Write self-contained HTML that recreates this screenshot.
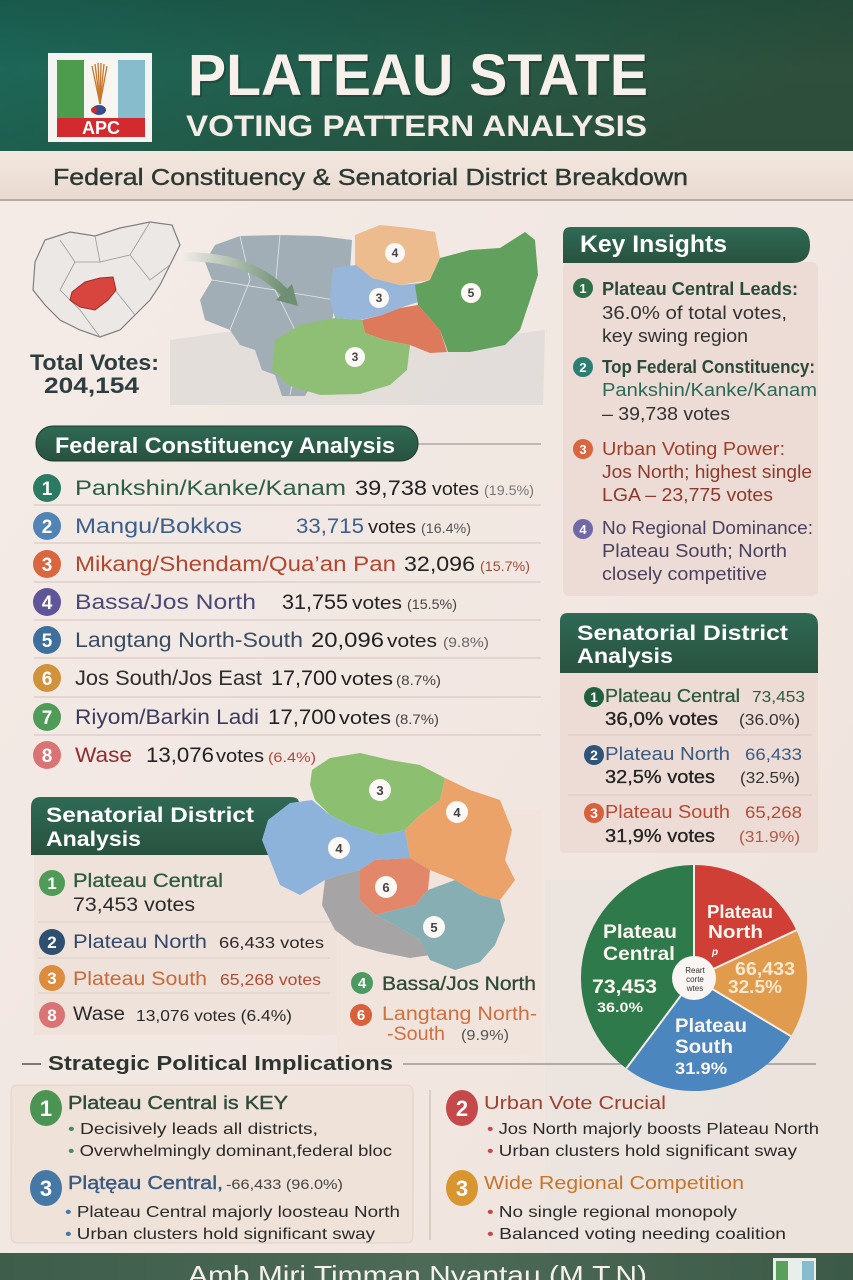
<!DOCTYPE html>
<html><head><meta charset="utf-8"><style>
html,body{margin:0;padding:0;background:#f3eae5;}
svg{display:block;}
text{font-family:"Liberation Sans",sans-serif;}
</style></head><body>
<svg width="853" height="1280" viewBox="0 0 853 1280" xmlns="http://www.w3.org/2000/svg">
<defs>
<linearGradient id="hdr" x1="0" y1="0" x2="1" y2="0.3">
<stop offset="0" stop-color="#1b6a5c"/><stop offset="0.5" stop-color="#235d4b"/><stop offset="1" stop-color="#2e4f3b"/></linearGradient>
<linearGradient id="hdrv" x1="0" y1="0" x2="0" y2="1">
<stop offset="0" stop-color="#163c30" stop-opacity="0.35"/><stop offset="0.45" stop-color="#163c30" stop-opacity="0"/><stop offset="1" stop-color="#163c30" stop-opacity="0.1"/></linearGradient>
<linearGradient id="sub" x1="0" y1="0" x2="0" y2="1">
<stop offset="0" stop-color="#f3e8e0"/><stop offset="1" stop-color="#e8d9cf"/></linearGradient>
<linearGradient id="body" x1="0" y1="0" x2="1" y2="1">
<stop offset="0" stop-color="#f5ece8"/><stop offset="1" stop-color="#efe3dc"/></linearGradient>
<linearGradient id="dg" x1="0" y1="0" x2="0" y2="1">
<stop offset="0" stop-color="#2f6a55"/><stop offset="1" stop-color="#28523f"/></linearGradient>
<linearGradient id="foot" x1="0" y1="0" x2="1" y2="0">
<stop offset="0" stop-color="#3f5d4b"/><stop offset="0.5" stop-color="#4d6a58"/><stop offset="1" stop-color="#3c5a47"/></linearGradient>
<linearGradient id="arr" x1="0" y1="0" x2="1" y2="0">
<stop offset="0" stop-color="#f2efec"/><stop offset="1" stop-color="#6f8f72"/></linearGradient>
</defs>

<!-- body background -->
<rect x="0" y="0" width="853" height="1280" fill="url(#body)"/>
<rect x="545" y="880" width="308" height="370" fill="#e9e2dd" opacity="0.6"/>

<!-- header -->
<rect x="0" y="0" width="853" height="151" fill="url(#hdr)"/>
<rect x="0" y="0" width="853" height="151" fill="url(#hdrv)"/>
<!-- logo -->
<rect x="48" y="53" width="104" height="89" fill="#f4f4f2"/>
<rect x="57" y="60" width="27" height="60" fill="#4d9b4c"/>
<rect x="84" y="60" width="34" height="60" fill="#f7f5f0"/>
<rect x="118" y="60" width="27" height="60" fill="#86bccb"/>
<g stroke="#c8782e" stroke-width="1.3">
<line x1="100" y1="104" x2="92" y2="66"/><line x1="100" y1="104" x2="95" y2="64"/><line x1="100" y1="104" x2="98" y2="63"/>
<line x1="100" y1="104" x2="101" y2="63"/><line x1="100" y1="104" x2="104" y2="64"/><line x1="100" y1="104" x2="107" y2="66"/>
</g>
<ellipse cx="99" cy="110" rx="7" ry="5" fill="#3a4c8c"/><circle cx="94" cy="110" r="3" fill="#c92a2a"/>
<rect x="57" y="118" width="88" height="19" fill="#d22a2e"/>
<text x="101" y="134" font-size="18" font-weight="bold" fill="#fff" text-anchor="middle">APC</text>
<!-- title -->
<text x="188" y="95" font-size="58" font-weight="bold" fill="#1b3a30" opacity="0.5" textLength="460" lengthAdjust="spacingAndGlyphs" transform="translate(2,2)">PLATEAU STATE</text>
<text x="188" y="95" font-size="58" font-weight="bold" fill="#f8f0ea" textLength="460" lengthAdjust="spacingAndGlyphs">PLATEAU STATE</text>
<text x="186" y="136" font-size="30" font-weight="bold" fill="#f4ece6" textLength="461" lengthAdjust="spacingAndGlyphs">VOTING PATTERN ANALYSIS</text>

<!-- subheader -->
<rect x="0" y="151" width="853" height="49" fill="url(#sub)"/>
<rect x="0" y="199" width="853" height="2" fill="#b9aaa2"/>
<text x="53" y="185" font-size="23" fill="#2e3833" stroke="#2e3833" stroke-width="0.4" textLength="635" lengthAdjust="spacingAndGlyphs">Federal Constituency &amp; Senatorial District Breakdown</text>

<!-- small nigeria map -->
<polygon points="35,262 45,240 70,232 95,236 120,228 150,222 172,225 180,245 170,265 160,285 150,300 135,315 120,330 100,337 80,330 60,320 45,305 33,290" fill="#ebe8e6" stroke="#7f7f7f" stroke-width="1.2"/>
<g stroke="#9a9a9a" stroke-width="0.8" fill="none">
<path d="M60,240 L75,262 L60,290"/><path d="M95,236 L100,262 L130,255 L150,222"/><path d="M75,262 L100,262"/><path d="M130,255 L150,280 L170,265"/><path d="M60,290 L80,310 L100,337"/><path d="M115,290 L135,315"/>
</g>
<polygon points="72,292 85,282 100,278 113,277 116,290 108,300 95,310 80,307 70,300" fill="#d8453e" stroke="#a32a26" stroke-width="1"/>
<text x="30" y="370" font-size="22" font-weight="bold" fill="#2d3d40" textLength="129" lengthAdjust="spacingAndGlyphs">Total Votes:</text>
<text x="44" y="393" font-size="22" font-weight="bold" fill="#2d3d40" textLength="95" lengthAdjust="spacingAndGlyphs">204,154</text>

<!-- big map -->
<polygon points="170,340 240,330 320,340 400,335 470,340 545,330 543,405 170,405" fill="#dcd8d5" opacity="0.7"/>
<polygon points="215,245 240,236 280,235 320,236 352,240 350,270 335,300 330,340 320,370 305,396 282,396 275,375 262,370 255,350 240,345 230,330 205,320 200,300 212,280 205,262" fill="#a2aeb6"/>
<g stroke="#e3e8eb" stroke-width="0.8" fill="none"><path d="M240,236 L250,280 L230,330"/><path d="M280,235 L275,290 L300,340 L290,395"/><path d="M212,280 L275,290 L335,300"/></g>
<polygon points="355,235 380,225 410,228 435,232 440,258 430,280 400,285 372,278 355,265" fill="#ecbb8e"/>
<polygon points="333,268 356,265 372,278 400,285 420,283 418,302 400,308 382,315 360,320 335,318 330,300" fill="#97b6d9"/>
<polygon points="440,258 470,250 500,248 525,232 535,240 538,275 530,300 520,330 505,345 470,352 448,352 440,330 418,305 415,285 430,280" fill="#62a05d"/>
<polygon points="362,320 382,315 400,308 418,305 440,330 447,352 430,353 410,345 385,340 365,333" fill="#dd7a5c"/>
<polygon points="275,340 300,325 335,318 362,320 365,333 385,340 410,345 407,370 390,385 360,394 320,395 290,386 272,370" fill="#8fbf74"/>
<path d="M180,257 Q250,255 285,293" stroke="url(#arr)" stroke-width="9" fill="none"/>
<polygon points="276,300 298,306 292,284" fill="#6f8f72"/>
<g font-size="12" font-weight="bold" fill="#444" text-anchor="middle">
<circle cx="395" cy="253" r="10" fill="#fbf8f5"/><text x="395" y="257">4</text>
<circle cx="379" cy="298" r="10" fill="#fbf8f5"/><text x="379" y="302">3</text>
<circle cx="471" cy="293" r="10" fill="#fbf8f5"/><text x="471" y="297">5</text>
<circle cx="355" cy="357" r="10" fill="#fbf8f5"/><text x="355" y="361">3</text>
</g>

<!-- Key insights -->
<rect x="563" y="262" width="255" height="334" rx="6" fill="#ecdcd5"/>
<path d="M563,263 L563,235 Q563,227 571,227 L792,227 Q810,227 810,245 Q810,263 792,263 Z" fill="url(#dg)"/>
<text x="580" y="252" font-size="24" font-weight="bold" fill="#fff" textLength="147" lengthAdjust="spacingAndGlyphs">Key Insights</text>
<g font-size="13" font-weight="bold" fill="#fff" text-anchor="middle">
<circle cx="583" cy="288" r="10" fill="#2f6f48"/><text x="583" y="293">1</text>
<circle cx="583" cy="367" r="10" fill="#2a7f72"/><text x="583" y="372">2</text>
<circle cx="583" cy="449" r="10" fill="#d9663f"/><text x="583" y="454">3</text>
<circle cx="583" cy="529" r="10" fill="#6f6aa6"/><text x="583" y="534">4</text>
</g>
<g font-size="18">
<text x="602" y="295" font-weight="bold" fill="#2c4a3b" textLength="196" lengthAdjust="spacingAndGlyphs">Plateau Central Leads:</text>
<text x="602" y="319" fill="#333" textLength="185" lengthAdjust="spacingAndGlyphs">36.0% of total votes,</text>
<text x="602" y="342" fill="#333" textLength="146" lengthAdjust="spacingAndGlyphs">key swing region</text>
<text x="602" y="373" font-weight="bold" fill="#2c4a3b" textLength="213" lengthAdjust="spacingAndGlyphs">Top Federal Constituency:</text>
<text x="602" y="396" fill="#2b6a58" textLength="215" lengthAdjust="spacingAndGlyphs">Pankshin/Kanke/Kanam</text>
<text x="602" y="420" fill="#333" textLength="128" lengthAdjust="spacingAndGlyphs">– 39,738 votes</text>
<text x="602" y="455" fill="#a0402c" textLength="183" lengthAdjust="spacingAndGlyphs">Urban Voting Power:</text>
<text x="602" y="478" fill="#8b3a2b" textLength="210" lengthAdjust="spacingAndGlyphs">Jos North; highest single</text>
<text x="602" y="501" fill="#8b3a2b" textLength="171" lengthAdjust="spacingAndGlyphs">LGA – 23,775 votes</text>
<text x="602" y="534" fill="#4a4160" textLength="211" lengthAdjust="spacingAndGlyphs">No Regional Dominance:</text>
<text x="602" y="557" fill="#4a4160" textLength="185" lengthAdjust="spacingAndGlyphs">Plateau South; North</text>
<text x="602" y="580" fill="#4a4160" textLength="165" lengthAdjust="spacingAndGlyphs">closely competitive</text>
</g>

<!-- Federal Constituency Analysis -->
<line x1="418" y1="444" x2="541" y2="444" stroke="#8a8a8a" stroke-width="1"/>
<rect x="36" y="426" width="382" height="35" rx="17" fill="url(#dg)" stroke="#1d3b2e" stroke-width="1"/>
<text x="55" y="453" font-size="22" font-weight="bold" fill="#fff" textLength="340" lengthAdjust="spacingAndGlyphs">Federal Constituency Analysis</text>
<g stroke="#d9cbc4" stroke-width="1.2">
<line x1="34" y1="505" x2="541" y2="505"/><line x1="34" y1="543" x2="541" y2="543"/><line x1="34" y1="582" x2="541" y2="582"/><line x1="34" y1="620" x2="541" y2="620"/><line x1="34" y1="658" x2="541" y2="658"/><line x1="34" y1="697" x2="541" y2="697"/><line x1="34" y1="735" x2="541" y2="735"/>
</g>
<g font-size="19" font-weight="bold" fill="#fff" text-anchor="middle">
<circle cx="47" cy="488" r="14" fill="#2b7a62"/><text x="47" y="495">1</text>
<circle cx="47" cy="526" r="14" fill="#5283b5"/><text x="47" y="533">2</text>
<circle cx="47" cy="564" r="14" fill="#d9663f"/><text x="47" y="571">3</text>
<circle cx="47" cy="602" r="14" fill="#5e5698"/><text x="47" y="609">4</text>
<circle cx="47" cy="640" r="14" fill="#3f6f9b"/><text x="47" y="647">5</text>
<circle cx="47" cy="678" r="14" fill="#d1923c"/><text x="47" y="685">6</text>
<circle cx="47" cy="717" r="14" fill="#4f9b57"/><text x="47" y="724">7</text>
<circle cx="47" cy="755" r="14" fill="#da7373"/><text x="47" y="762">8</text>
</g>
<g font-size="21">
<text x="75" y="495" fill="#2c5e45" textLength="271" lengthAdjust="spacingAndGlyphs">Pankshin/Kanke/Kanam</text>
<text x="355" y="495" fill="#222" textLength="72" lengthAdjust="spacingAndGlyphs">39,738</text>
<text x="432" y="495" font-size="18" fill="#222" textLength="47" lengthAdjust="spacingAndGlyphs">votes</text>
<text x="484" y="495" font-size="14" fill="#777" textLength="50" lengthAdjust="spacingAndGlyphs">(19.5%)</text>

<text x="75" y="533" fill="#3d5f8c" textLength="167" lengthAdjust="spacingAndGlyphs">Mangu/Bokkos</text>
<text x="296" y="533" fill="#3d5f8c" textLength="68" lengthAdjust="spacingAndGlyphs">33,715</text>
<text x="368" y="533" font-size="18" fill="#222" textLength="48" lengthAdjust="spacingAndGlyphs">votes</text>
<text x="421" y="533" font-size="14" fill="#555" textLength="50" lengthAdjust="spacingAndGlyphs">(16.4%)</text>

<text x="75" y="571" fill="#b2462e" textLength="321" lengthAdjust="spacingAndGlyphs">Mikang/Shendam/Qua’an Pan</text>
<text x="404" y="571" fill="#222" textLength="71" lengthAdjust="spacingAndGlyphs">32,096</text>
<text x="480" y="571" font-size="14" fill="#a0503a" textLength="50" lengthAdjust="spacingAndGlyphs">(15.7%)</text>

<text x="75" y="609" fill="#4a4878" textLength="181" lengthAdjust="spacingAndGlyphs">Bassa/Jos North</text>
<text x="282" y="609" fill="#222" textLength="66" lengthAdjust="spacingAndGlyphs">31,755</text>
<text x="352" y="609" font-size="18" fill="#222" textLength="50" lengthAdjust="spacingAndGlyphs">votes</text>
<text x="407" y="609" font-size="14" fill="#444" textLength="50" lengthAdjust="spacingAndGlyphs">(15.5%)</text>

<text x="75" y="647" fill="#3a4d60" textLength="228" lengthAdjust="spacingAndGlyphs">Langtang North-South</text>
<text x="311" y="647" fill="#222" textLength="73" lengthAdjust="spacingAndGlyphs">20,096</text>
<text x="387" y="647" font-size="18" fill="#222" textLength="50" lengthAdjust="spacingAndGlyphs">votes</text>
<text x="443" y="647" font-size="14" fill="#666" textLength="46" lengthAdjust="spacingAndGlyphs">(9.8%)</text>

<text x="75" y="685" fill="#2e2e2e" textLength="187" lengthAdjust="spacingAndGlyphs">Jos South/Jos East</text>
<text x="271" y="685" fill="#222" textLength="66" lengthAdjust="spacingAndGlyphs">17,700</text>
<text x="341" y="685" font-size="18" fill="#222" textLength="52" lengthAdjust="spacingAndGlyphs">votes</text>
<text x="396" y="685" font-size="14" fill="#444" textLength="45" lengthAdjust="spacingAndGlyphs">(8.7%)</text>

<text x="75" y="724" fill="#3b3b5e" textLength="184" lengthAdjust="spacingAndGlyphs">Riyom/Barkin Ladi</text>
<text x="268" y="724" fill="#222" textLength="68" lengthAdjust="spacingAndGlyphs">17,700</text>
<text x="339" y="724" font-size="18" fill="#222" textLength="52" lengthAdjust="spacingAndGlyphs">votes</text>
<text x="395" y="724" font-size="14" fill="#444" textLength="44" lengthAdjust="spacingAndGlyphs">(8.7%)</text>

<text x="75" y="762" fill="#8e2e2e" textLength="57" lengthAdjust="spacingAndGlyphs">Wase</text>
<text x="146" y="762" fill="#222" textLength="68" lengthAdjust="spacingAndGlyphs">13,076</text>
<text x="216" y="762" font-size="18" fill="#222" textLength="48" lengthAdjust="spacingAndGlyphs">votes</text>
<text x="268" y="762" font-size="14" fill="#b04a40" textLength="48" lengthAdjust="spacingAndGlyphs">(6.4%)</text>
</g>

<!-- Right Senatorial District Analysis -->
<rect x="560" y="670" width="258" height="183" rx="4" fill="#ecdcd5"/>
<path d="M560,673 L560,621 Q560,613 568,613 L806,613 Q818,613 818,625 L818,673 Z" fill="url(#dg)"/>
<text x="577" y="640" font-size="21" font-weight="bold" fill="#fff" textLength="211" lengthAdjust="spacingAndGlyphs">Senatorial District</text>
<text x="577" y="663" font-size="21" font-weight="bold" fill="#fff" textLength="96" lengthAdjust="spacingAndGlyphs">Analysis</text>
<g stroke="#d9c9c1" stroke-width="1"><line x1="568" y1="735" x2="812" y2="735"/><line x1="568" y1="795" x2="812" y2="795"/></g>
<g font-size="14" font-weight="bold" fill="#fff" text-anchor="middle">
<circle cx="594" cy="697" r="10" fill="#23603f"/><text x="594" y="702">1</text>
<circle cx="594" cy="755" r="10" fill="#2f5479"/><text x="594" y="760">2</text>
<circle cx="594" cy="813" r="10" fill="#d7603d"/><text x="594" y="818">3</text>
</g>
<g font-size="18">
<text x="605" y="702" fill="#2e5a3e" stroke="#2e5a3e" stroke-width="0.3" textLength="135" lengthAdjust="spacingAndGlyphs">Plateau Central</text>
<text x="752" y="702" font-size="16" fill="#2e5a3e" textLength="53" lengthAdjust="spacingAndGlyphs">73,453</text>
<text x="605" y="725" fill="#222" stroke="#222" stroke-width="0.3" textLength="113" lengthAdjust="spacingAndGlyphs">36,0% votes</text>
<text x="739" y="725" font-size="16" fill="#333" textLength="61" lengthAdjust="spacingAndGlyphs">(36.0%)</text>
<text x="605" y="760" fill="#3a5a80" textLength="125" lengthAdjust="spacingAndGlyphs">Plateau North</text>
<text x="745" y="760" font-size="17" fill="#3a5a80" textLength="57" lengthAdjust="spacingAndGlyphs">66,433</text>
<text x="605" y="783" fill="#222" stroke="#222" stroke-width="0.3" textLength="110" lengthAdjust="spacingAndGlyphs">32,5% votes</text>
<text x="740" y="783" font-size="16" fill="#333" textLength="60" lengthAdjust="spacingAndGlyphs">(32.5%)</text>
<text x="605" y="818" fill="#b84a35" textLength="125" lengthAdjust="spacingAndGlyphs">Plateau South</text>
<text x="745" y="818" font-size="17" fill="#b84a35" textLength="57" lengthAdjust="spacingAndGlyphs">65,268</text>
<text x="605" y="842" fill="#222" stroke="#222" stroke-width="0.3" textLength="110" lengthAdjust="spacingAndGlyphs">31,9% votes</text>
<text x="739" y="842" font-size="16" fill="#b05a48" textLength="61" lengthAdjust="spacingAndGlyphs">(31.9%)</text>
</g>

<!-- Left Senatorial box -->
<rect x="337" y="810" width="204" height="245" fill="#efe3dd" opacity="0.9"/>
<rect x="34" y="853" width="303" height="182" fill="#efe2da"/>
<g stroke="#ddd0c8" stroke-width="1"><line x1="38" y1="922" x2="330" y2="922"/><line x1="38" y1="958" x2="330" y2="958"/><line x1="38" y1="993" x2="330" y2="993"/></g>

<!-- left senatorial header (under map) -->
<path d="M31,855 L31,807 Q31,797 41,797 L290,797 Q302,797 298,808 L284,855 Z" fill="url(#dg)"/>

<!-- map 2 -->
<polygon points="312,770 330,758 360,753 390,760 420,765 445,778 440,800 420,815 405,830 380,835 350,825 330,815 315,800 310,785" fill="#8cbf70"/>
<polygon points="445,778 470,790 500,800 512,830 505,860 515,880 500,900 480,895 455,880 430,870 410,858 405,830 420,815 440,800" fill="#eba369"/>
<polygon points="268,820 290,803 312,800 330,815 350,825 380,835 405,830 410,858 375,860 360,870 340,875 325,880 300,895 280,885 270,860 262,840" fill="#8db3da"/>
<polygon points="325,880 340,875 360,870 365,885 360,900 375,915 395,925 420,940 430,955 410,958 380,952 355,945 335,930 322,905" fill="#a6a4a4"/>
<polygon points="360,870 375,860 410,858 430,870 428,890 415,905 395,910 375,915 360,900" fill="#e2876a"/>
<polygon points="415,905 428,890 455,880 480,895 500,900 505,920 495,945 480,962 455,970 430,960 420,940 395,925 375,915 395,910" fill="#86aeb3"/>
<g font-size="13" font-weight="bold" fill="#444" text-anchor="middle">
<circle cx="380" cy="790" r="11" fill="#fbf8f5"/><text x="380" y="795">3</text>
<circle cx="457" cy="812" r="11" fill="#fbf8f5"/><text x="457" y="817">4</text>
<circle cx="339" cy="848" r="11" fill="#fbf8f5"/><text x="339" y="853">4</text>
<circle cx="386" cy="887" r="11" fill="#fbf8f5"/><text x="386" y="892">6</text>
<circle cx="434" cy="927" r="11" fill="#fbf8f5"/><text x="434" y="932">5</text>
</g>

<text x="46" y="822" font-size="21" font-weight="bold" fill="#fff" textLength="208" lengthAdjust="spacingAndGlyphs">Senatorial District</text>
<text x="46" y="846" font-size="21" font-weight="bold" fill="#fff" textLength="95" lengthAdjust="spacingAndGlyphs">Analysis</text>
<g font-size="17" font-weight="bold" fill="#fff" text-anchor="middle">
<circle cx="52" cy="883" r="13" fill="#4f9b57"/><text x="52" y="889">1</text>
<circle cx="52" cy="942" r="13" fill="#2f4f6f"/><text x="52" y="948">2</text>
<circle cx="52" cy="978" r="13" fill="#dc8c3c"/><text x="52" y="984">3</text>
<circle cx="52" cy="1015" r="13" fill="#da7373"/><text x="52" y="1021">8</text>
</g>
<g font-size="19">
<text x="73" y="887" fill="#2f5a40" stroke="#2f5a40" stroke-width="0.3" textLength="150" lengthAdjust="spacingAndGlyphs">Plateau Central</text>
<text x="73" y="911" fill="#2a2a2a" textLength="122" lengthAdjust="spacingAndGlyphs">73,453 votes</text>
<text x="73" y="948" fill="#33486a" textLength="134" lengthAdjust="spacingAndGlyphs">Plateau North</text>
<text x="219" y="948" font-size="16" fill="#2a2a2a" textLength="105" lengthAdjust="spacingAndGlyphs">66,433 votes</text>
<text x="73" y="985" fill="#c9693a" textLength="134" lengthAdjust="spacingAndGlyphs">Plateau South</text>
<text x="220" y="985" font-size="16" fill="#b04a35" textLength="101" lengthAdjust="spacingAndGlyphs">65,268 votes</text>
<text x="73" y="1020" fill="#2a2a2a" textLength="52" lengthAdjust="spacingAndGlyphs">Wase</text>
<text x="136" y="1021" font-size="16" fill="#2a2a2a" textLength="156" lengthAdjust="spacingAndGlyphs">13,076 votes (6.4%)</text>
</g>
<g font-size="15" font-weight="bold" fill="#fff" text-anchor="middle">
<circle cx="362" cy="983" r="11" fill="#4c9a60"/><text x="362" y="988">4</text>
<circle cx="361" cy="1015" r="11" fill="#d9603a"/><text x="361" y="1020">6</text>
</g>
<text x="382" y="990" font-size="19" fill="#2f4a3a" stroke="#2f4a3a" stroke-width="0.3" textLength="154" lengthAdjust="spacingAndGlyphs">Bassa/Jos North</text>
<text x="382" y="1020" font-size="19" fill="#d07040" textLength="155" lengthAdjust="spacingAndGlyphs">Langtang North-</text>
<text x="387" y="1040" font-size="19" fill="#d07040" textLength="58" lengthAdjust="spacingAndGlyphs">-South</text>
<text x="461" y="1040" font-size="15" fill="#555" textLength="48" lengthAdjust="spacingAndGlyphs">(9.9%)</text>

<!-- Strategic line (under pie) -->
<line x1="403" y1="1064" x2="816" y2="1064" stroke="#9a9a9a" stroke-width="1.5"/>

<!-- Pie -->
<g transform="translate(694,978)">
<path d="M0,0 L0,-113 A113,113 0 0 1 102.4,-47.8 Z" fill="#cf3f35"/>
<path d="M0,0 L102.4,-47.8 A113,113 0 0 1 96.9,58.2 Z" fill="#e19b4c"/>
<path d="M0,0 L96.9,58.2 A113,113 0 0 1 -67.7,90.5 Z" fill="#4b86bf"/>
<path d="M0,0 L-67.7,90.5 A113,113 0 0 1 0,-113 Z" fill="#2e7a4a"/>
<g stroke="#f4ede8" stroke-width="2"><line x1="0" y1="0" x2="0" y2="-113"/><line x1="0" y1="0" x2="102.4" y2="-47.8"/><line x1="0" y1="0" x2="96.9" y2="58.2"/><line x1="0" y1="0" x2="-67.7" y2="90.5"/></g>
<circle r="22" fill="#f8f5f2"/>
</g>
<g font-size="8" fill="#333" text-anchor="middle">
<text x="695" y="973">Reart</text><text x="695" y="982">corte</text><text x="695" y="991">wtes</text>
</g>
<g font-weight="bold" fill="#fbf6f0">
<text x="603" y="938" font-size="19" textLength="74" lengthAdjust="spacingAndGlyphs">Plateau</text>
<text x="603" y="960" font-size="19" textLength="72" lengthAdjust="spacingAndGlyphs">Central</text>
<text x="592" y="993" font-size="19" textLength="65" lengthAdjust="spacingAndGlyphs">73,453</text>
<text x="597" y="1012" font-size="14" textLength="46" lengthAdjust="spacingAndGlyphs">36.0%</text>
<text x="707" y="918" font-size="18" textLength="66" lengthAdjust="spacingAndGlyphs">Plateau</text>
<text x="708" y="938" font-size="18" textLength="55" lengthAdjust="spacingAndGlyphs">North</text>
<text x="712" y="955" font-size="10" font-style="italic" fill="#fff">p</text>
<text x="735" y="975" font-size="18" fill="#fbe9d0" textLength="60" lengthAdjust="spacingAndGlyphs">66,433</text>
<text x="728" y="993" font-size="18" fill="#fbe9d0" textLength="54" lengthAdjust="spacingAndGlyphs">32.5%</text>
<text x="675" y="1032" font-size="19" textLength="72" lengthAdjust="spacingAndGlyphs">Plateau</text>
<text x="675" y="1053" font-size="19" textLength="58" lengthAdjust="spacingAndGlyphs">South</text>
<text x="675" y="1074" font-size="17" textLength="52" lengthAdjust="spacingAndGlyphs">31.9%</text>
</g>

<!-- Strategic Political Implications -->
<line x1="22" y1="1064" x2="41" y2="1064" stroke="#555" stroke-width="1.5"/>
<text x="48" y="1070" font-size="20" font-weight="bold" fill="#2d3530" textLength="345" lengthAdjust="spacingAndGlyphs">Strategic Political Implications</text>
<rect x="11" y="1085" width="402" height="158" rx="6" fill="#efe2d9" stroke="#e2d3c9" stroke-width="1"/>
<line x1="430" y1="1090" x2="430" y2="1240" stroke="#cbbdb4" stroke-width="1.2"/>
<g font-size="22" font-weight="bold" fill="#fff" text-anchor="middle">
<ellipse cx="46" cy="1108" rx="16" ry="18" fill="#4c9453"/><text x="46" y="1116">1</text>
<ellipse cx="46" cy="1188" rx="16" ry="18" fill="#4678a6"/><text x="46" y="1196">3</text>
<ellipse cx="462" cy="1108" rx="16" ry="18" fill="#c5494a"/><text x="462" y="1116">2</text>
<ellipse cx="462" cy="1188" rx="16" ry="18" fill="#d9952f"/><text x="462" y="1196">3</text>
</g>
<g font-size="18">
<text x="68" y="1109" fill="#2f4a3a" stroke="#2f4a3a" stroke-width="0.4" textLength="220" lengthAdjust="spacingAndGlyphs">Plateau Central is KEY</text>
<text x="68" y="1189" fill="#3a5a80" stroke="#3a5a80" stroke-width="0.4" textLength="155" lengthAdjust="spacingAndGlyphs">Plątęau Central,</text>
<text x="226" y="1189" font-size="14" fill="#444" textLength="117" lengthAdjust="spacingAndGlyphs">-66,433 (96.0%)</text>
<text x="484" y="1109" fill="#a0402e" textLength="182" lengthAdjust="spacingAndGlyphs">Urban Vote Crucial</text>
<text x="484" y="1189" fill="#c8742a" textLength="260" lengthAdjust="spacingAndGlyphs">Wide Regional Competition</text>
</g>
<g font-size="16" fill="#2a2a2a">
<text x="68" y="1134" textLength="250" lengthAdjust="spacingAndGlyphs"><tspan fill="#4c8a60">•</tspan> Decisively leads all districts,</text>
<text x="68" y="1156" textLength="324" lengthAdjust="spacingAndGlyphs"><tspan fill="#4c8a60">•</tspan> Overwhelmingly dominant,federal bloc</text>
<text x="65" y="1217" textLength="335" lengthAdjust="spacingAndGlyphs"><tspan fill="#4678a6">•</tspan> Plateau Central majorly loosteau North</text>
<text x="65" y="1239" textLength="310" lengthAdjust="spacingAndGlyphs"><tspan fill="#4678a6">•</tspan> Urban clusters hold significant sway</text>
<text x="487" y="1134" textLength="332" lengthAdjust="spacingAndGlyphs"><tspan fill="#c5494a">•</tspan> Jos North majorly boosts Plateau North</text>
<text x="487" y="1156" textLength="310" lengthAdjust="spacingAndGlyphs"><tspan fill="#c5494a">•</tspan> Urban clusters hold significant sway</text>
<text x="487" y="1217" textLength="250" lengthAdjust="spacingAndGlyphs"><tspan fill="#c5494a">•</tspan> No single regional monopoly</text>
<text x="487" y="1239" textLength="299" lengthAdjust="spacingAndGlyphs"><tspan fill="#c5494a">•</tspan> Balanced voting needing coalition</text>
</g>

<!-- footer -->
<rect x="0" y="1253" width="853" height="27" fill="url(#foot)"/>
<text x="188" y="1284" font-size="26" fill="#f5f0ea" textLength="459" lengthAdjust="spacingAndGlyphs">Amb Miri Timman Nyantau (M.T.N)</text>
<rect x="773" y="1258" width="43" height="22" fill="#e8eee9"/>
<rect x="776" y="1261" width="12" height="19" fill="#5aa05a"/>
<rect x="802" y="1261" width="12" height="19" fill="#86bccb"/>
</svg>
</body></html>
